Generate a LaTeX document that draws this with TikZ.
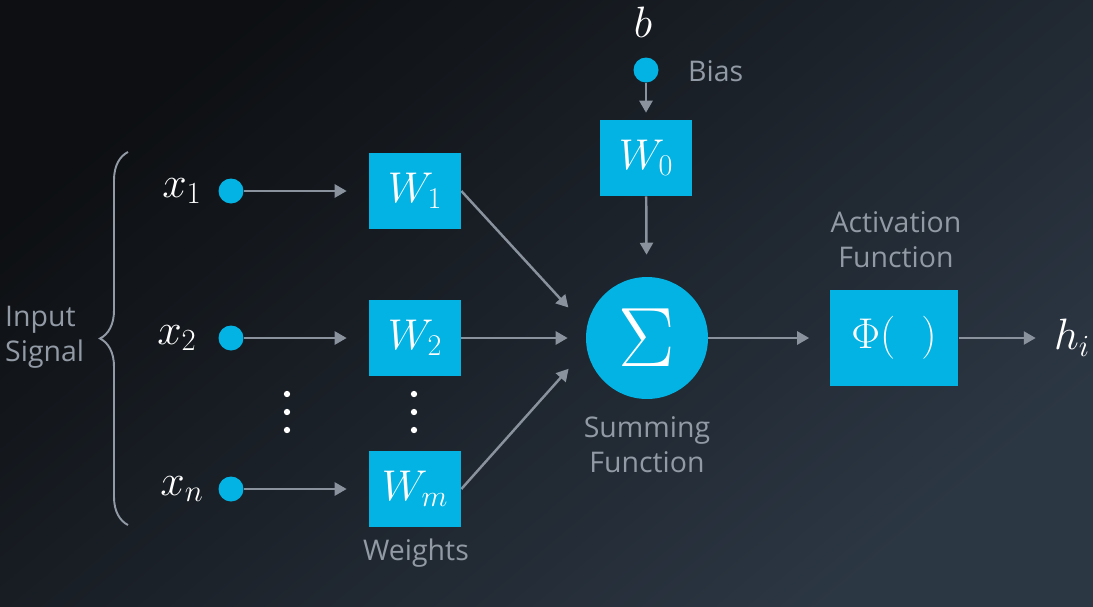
\RequirePackage{fix-cm}
\documentclass[tikz,border=0pt]{standalone}
\usepackage{fontspec}
\setmainfont{Open Sans}
\usetikzlibrary{arrows.meta,decorations.pathreplacing}

\definecolor{bgdark}{HTML}{0D0F12}
\definecolor{bgmid}{HTML}{1B2027}
\definecolor{bglight}{HTML}{2C3744}
\definecolor{udblue}{HTML}{02B3E4}
\definecolor{arrowgray}{HTML}{8A929E}
\definecolor{labelgray}{HTML}{929AA5}

\tikzset{
  wbox/.style={fill=udblue, minimum width=1.84cm, minimum height=1.52cm, inner sep=0pt, text=white, font=\fontsize{24.5}{28}\selectfont},
  indot/.style={circle, fill=udblue, minimum size=0.5cm, inner sep=0pt},
  conn/.style={-{Triangle[length=6.8pt,width=7.4pt]}, draw=arrowgray, fill=arrowgray, line width=1.4pt},
  mathlbl/.style={text=white, inner sep=0pt, font=\fontsize{25}{30}\selectfont},
  caption/.style={text=labelgray, font=\fontsize{16.2}{20}\selectfont, align=center},
}

\begin{document}
\begin{tikzpicture}[x=0.02cm, y=-0.02cm]
    % Background
    \shade[top color=bgdark, middle color=bgmid, bottom color=bglight, shading angle=40] (0,0) rectangle (1093,606);
    \useasboundingbox (0,0) rectangle (1093,606);

    % Input signal
    \node[caption, align=left, anchor=west] (inlbl) at (-1,337) {Input\\Signal};
    \draw[decorate, decoration={brace, amplitude=0.56cm}, labelgray, line width=1.1pt] (128,525) -- (128,152);

    \node[mathlbl] (x1) at (182,191) {$x_1$};
    \node[mathlbl] (x2) at (177,338) {$x_2$};
    \node[mathlbl] (xn) at (182,489) {$x_n$};
    \node[indot] (d1) at (231,191) {};
    \node[indot] (d2) at (231,338) {};
    \node[indot] (dn) at (231,489) {};

    % Weights
    \node[wbox] (w1) at (415,191) {$W_1$};
    \node[wbox] (w2) at (415,338) {$W_2$};
    \node[wbox] (wm) at (415,489) {$W_m$};
    \node[caption] (wlbl) at (416,553) {Weights};

    \foreach \xx in {287,414}
        \foreach \yy in {394,412,430}
            \fill[white] (\xx,\yy) circle (1.8pt);

    % Bias
    \node[mathlbl] (b) at (643,22) {$b$};
    \node[indot] (bd) at (646,70) {};
    \node[caption, anchor=west] (biaslbl) at (682,71) {Bias};
    \node[wbox] (w0) at (646,158) {$W_0$};

    % Summing and activation
    \node[circle, fill=udblue, minimum size=2.44cm, inner sep=0pt, text=white, font=\fontsize{48}{50}\selectfont] (sum) at (647,338) {$\Sigma$};
    \node[caption] (sumlbl) at (647,445) {Summing\\Function};
    \node[wbox, minimum width=2.58cm, minimum height=1.94cm] (phi) at (894,338) {$\Phi(\hspace{0.6em})$};
    \node[caption] (actlbl) at (896,240) {Activation\\Function};
    \node[mathlbl] (hi) at (1072,338) {$h_i$};

    % Connectors
    \draw[conn, shorten >=0.44cm] (d1) -- (w1);
    \draw[conn, shorten >=0.44cm] (d2) -- (w2);
    \draw[conn, shorten >=0.44cm] (dn) -- (wm);
    \draw[conn, shorten >=0.54cm] (w1.east) -- (sum.170);
    \draw[conn, shorten >=0.36cm] (w2) -- (sum);
    \draw[conn, shorten >=0.54cm] (wm.east) -- (sum.190);
    \draw[conn, shorten >=0.14cm] (bd) -- (w0);
    \draw[conn, shorten >=0.44cm] (w0) -- (sum);
    \draw[conn, shorten >=0.4cm] (sum) -- (phi);
    \draw[conn, shorten >=0.36cm] (phi) -- (hi);
\end{tikzpicture}
\end{document}
